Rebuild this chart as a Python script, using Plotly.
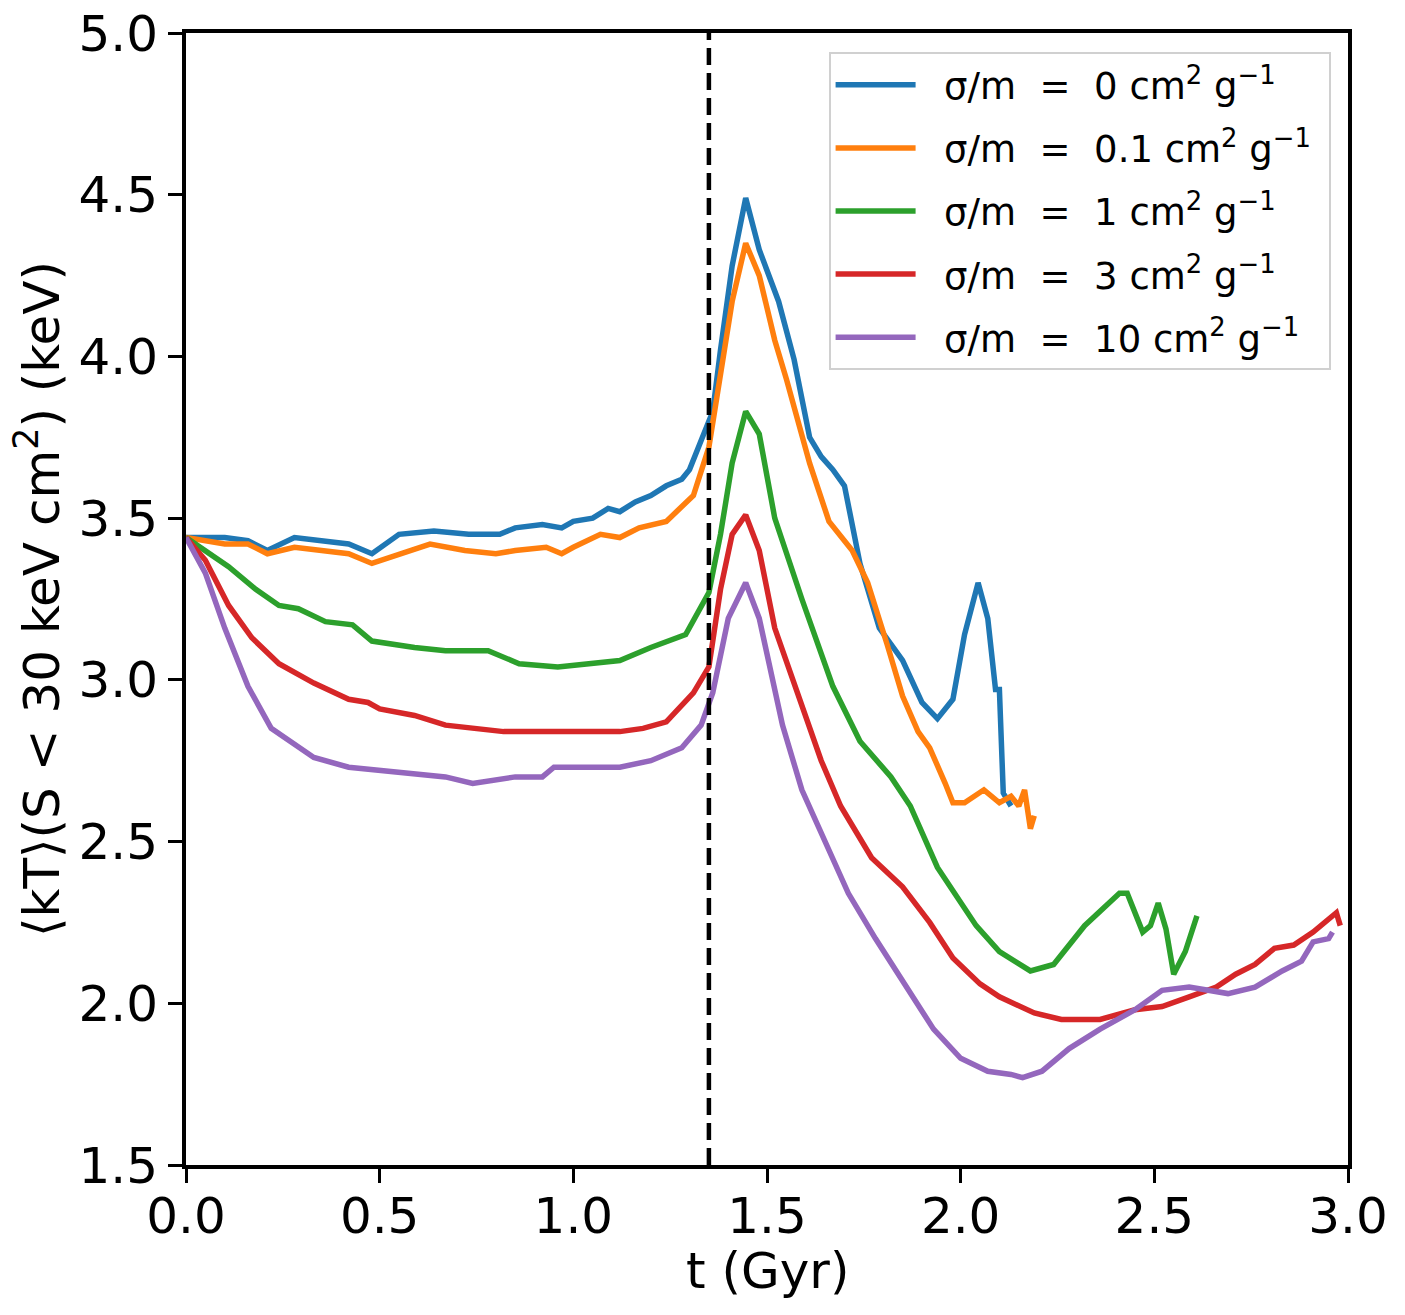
import plotly.graph_objects as go

# ---------------- data ----------------
t_merge = 1.35

t_0 = [0, 0.05, 0.10, 0.16, 0.21, 0.28, 0.35, 0.42, 0.48, 0.55, 0.64, 0.73, 0.81, 0.85, 0.92, 0.97, 1.00,
       1.05, 1.09, 1.12, 1.16, 1.20, 1.24, 1.28, 1.30, 1.33, 1.36, 1.38, 1.41, 1.445, 1.48, 1.53, 1.57, 1.61,
       1.64, 1.67, 1.70, 1.74, 1.79, 1.85, 1.90, 1.94, 1.98, 2.01, 2.045, 2.07, 2.09, 2.10, 2.11, 2.13]
kT_0 = [3.44, 3.44, 3.44, 3.43, 3.40, 3.44, 3.43, 3.42, 3.39, 3.45, 3.46, 3.45, 3.45, 3.47, 3.48, 3.47, 3.49,
        3.50, 3.53, 3.52, 3.55, 3.57, 3.60, 3.62, 3.65, 3.74, 3.83, 4.02, 4.28, 4.49, 4.33, 4.17, 3.99, 3.75,
        3.69, 3.65, 3.60, 3.36, 3.16, 3.06, 2.93, 2.88, 2.94, 3.14, 3.30, 3.19, 2.97, 2.97, 2.65, 2.61]

t_01 = [0, 0.05, 0.10, 0.16, 0.21, 0.28, 0.35, 0.42, 0.48, 0.55, 0.63, 0.72, 0.80, 0.85, 0.93, 0.97, 1.00,
        1.07, 1.12, 1.17, 1.24, 1.31, 1.35, 1.37, 1.41, 1.445, 1.48, 1.52, 1.55, 1.61, 1.66, 1.72, 1.76, 1.81,
        1.85, 1.89, 1.92, 1.96, 1.98, 2.01, 2.06, 2.10, 2.13, 2.15, 2.165, 2.18, 2.19]
kT_01 = [3.44, 3.43, 3.42, 3.42, 3.39, 3.41, 3.40, 3.39, 3.36, 3.39, 3.42, 3.40, 3.39, 3.40, 3.41, 3.39, 3.41,
         3.45, 3.44, 3.47, 3.49, 3.57, 3.72, 3.87, 4.17, 4.35, 4.25, 4.05, 3.93, 3.67, 3.49, 3.40, 3.30, 3.11,
         2.95, 2.84, 2.79, 2.68, 2.62, 2.62, 2.66, 2.62, 2.64, 2.61, 2.66, 2.54, 2.58]

t_1 = [0, 0.07, 0.11, 0.18, 0.24, 0.29, 0.36, 0.43, 0.48, 0.59, 0.67, 0.78, 0.86, 0.96, 1.04, 1.12, 1.20,
       1.29, 1.35, 1.38, 1.41, 1.445, 1.48, 1.52, 1.59, 1.67, 1.74, 1.82, 1.87, 1.94, 2.04, 2.10, 2.18, 2.24,
       2.32, 2.41, 2.43, 2.47, 2.49, 2.51, 2.53, 2.55, 2.58, 2.61]
kT_1 = [3.44, 3.38, 3.35, 3.28, 3.23, 3.22, 3.18, 3.17, 3.12, 3.10, 3.09, 3.09, 3.05, 3.04, 3.05, 3.06, 3.10,
        3.14, 3.27, 3.45, 3.67, 3.83, 3.76, 3.50, 3.25, 2.98, 2.81, 2.70, 2.61, 2.42, 2.24, 2.16, 2.10, 2.12,
        2.24, 2.34, 2.34, 2.22, 2.24, 2.31, 2.23, 2.09, 2.16, 2.27]

t_3 = [0, 0.05, 0.11, 0.17, 0.24, 0.33, 0.42, 0.47, 0.50, 0.59, 0.67, 0.74, 0.82, 0.93, 1.02, 1.12, 1.18,
       1.24, 1.31, 1.35, 1.38, 1.41, 1.445, 1.48, 1.52, 1.59, 1.64, 1.69, 1.77, 1.85, 1.92, 1.98, 2.05, 2.10,
       2.19, 2.26, 2.36, 2.45, 2.52, 2.59, 2.66, 2.71, 2.76, 2.81, 2.86, 2.91, 2.95, 2.97, 2.98]
kT_3 = [3.44, 3.37, 3.23, 3.13, 3.05, 2.99, 2.94, 2.93, 2.91, 2.89, 2.86, 2.85, 2.84, 2.84, 2.84, 2.84, 2.85,
        2.87, 2.96, 3.04, 3.28, 3.45, 3.51, 3.40, 3.16, 2.92, 2.75, 2.61, 2.45, 2.36, 2.25, 2.14, 2.06, 2.02,
        1.97, 1.95, 1.95, 1.98, 1.99, 2.02, 2.05, 2.09, 2.12, 2.17, 2.18, 2.22, 2.26, 2.28, 2.24]

t_10 = [0, 0.05, 0.10, 0.16, 0.22, 0.28, 0.33, 0.42, 0.50, 0.59, 0.67, 0.74, 0.85, 0.92, 0.95, 1.05, 1.12,
        1.20, 1.28, 1.33, 1.36, 1.40, 1.445, 1.48, 1.54, 1.59, 1.65, 1.71, 1.78, 1.85, 1.93, 2.00, 2.07, 2.13,
        2.16, 2.21, 2.28, 2.36, 2.45, 2.52, 2.59, 2.69, 2.76, 2.83, 2.88, 2.91, 2.95, 2.96]
kT_10 = [3.44, 3.33, 3.16, 2.98, 2.85, 2.80, 2.76, 2.73, 2.72, 2.71, 2.70, 2.68, 2.70, 2.70, 2.73, 2.73, 2.73,
         2.75, 2.79, 2.86, 2.96, 3.19, 3.30, 3.19, 2.86, 2.66, 2.50, 2.34, 2.20, 2.07, 1.92, 1.83, 1.79, 1.78,
         1.77, 1.79, 1.86, 1.92, 1.98, 2.04, 2.05, 2.03, 2.05, 2.10, 2.13, 2.19, 2.20, 2.22]

cross_sections = ["0", "0.1", "1", "3", "10"]
series_t = [t_0, t_01, t_1, t_3, t_10]
series_kT = [kT_0, kT_01, kT_1, kT_3, kT_10]
colors = ["#1f77b4", "#ff7f0e", "#2ca02c", "#d62728", "#9467bd"]

x_ticks = [0.0, 0.5, 1.0, 1.5, 2.0, 2.5, 3.0]
y_ticks = [1.5, 2.0, 2.5, 3.0, 3.5, 4.0, 4.5, 5.0]

# ---------------- figure ----------------
FONT = "DejaVu Sans"
NB = "\u00a0"
fig = go.Figure()
for i, (s, tt, kk, c) in enumerate(zip(cross_sections, series_t, series_kT, colors)):
    name = f"{NB}{NB}σ/m{NB}{NB}={NB}{NB}{s} cm<sup>2</sup> g<sup>−1</sup>{NB}"
    fig.add_trace(go.Scatter(x=tt, y=kk, mode="lines", name=name, legendgroup=f"g{i}",
                             line=dict(color=c, width=5.5)))

fig.add_shape(type="line", x0=t_merge, x1=t_merge, xref="x", y0=0, y1=1, yref="paper",
              line=dict(color="black", width=4.5, dash="17px,8px"))

axis_common = dict(showline=True, linecolor="black", linewidth=4, mirror=True,
                   ticks="outside", ticklen=14, tickwidth=3, tickcolor="black",
                   showgrid=False, zeroline=False, automargin=False,
                   tickfont=dict(family=FONT, size=50, color="black"))

fig.update_xaxes(range=[0, 3.0], tickvals=x_ticks, ticktext=[f"{v:.1f}" for v in x_ticks],
                 ticklabelstandoff=-10, **axis_common)
fig.update_yaxes(range=[1.5, 5.0], tickvals=y_ticks, ticktext=[f"{v:.1f}" for v in y_ticks],
                 title=dict(text="⟨kT⟩(S &lt; 30 keV cm<sup>2</sup>) (keV)",
                            font=dict(family=FONT, size=50, color="black"), standoff=4),
                 **axis_common)

# x-axis title placed as annotation to match the reference's tighter spacing
fig.add_annotation(text="t (Gyr)", xref="paper", yref="paper", x=0.5, y=0,
                   xanchor="center", yanchor="middle", yshift=-106, showarrow=False,
                   font=dict(family=FONT, size=50, color="black"))

fig.update_layout(
    width=1405, height=1315,
    margin=dict(l=186, r=57, t=33, b=150, autoexpand=False),
    plot_bgcolor="white", paper_bgcolor="white",
    font=dict(family=FONT, color="black"),
    legend=dict(x=0.553, y=0.983, xanchor="left", yanchor="top",
                bgcolor="white", bordercolor="#d0d0d0", borderwidth=2,
                font=dict(family=FONT, size=37, color="black"),
                itemwidth=80, traceorder="grouped", tracegroupgap=12),
    showlegend=True,
)

fig.write_html("out.html")
